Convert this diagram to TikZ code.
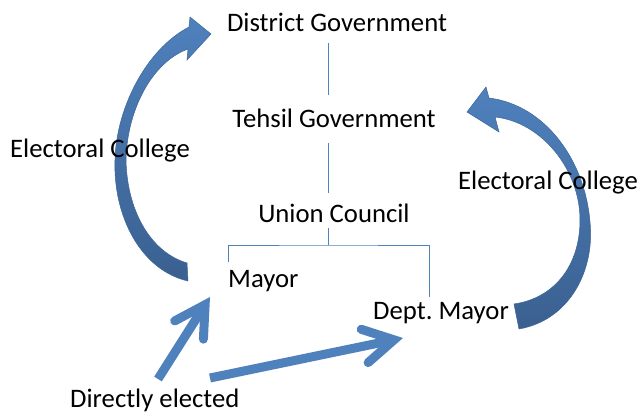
\documentclass[tikz,border=0pt]{standalone}
\usepackage{fontspec}
\setmainfont{Carlito}
\usetikzlibrary{arrows.meta}
\definecolor{pptblue}{RGB}{79,129,189}
\definecolor{pptdark}{RGB}{58,96,144}
\definecolor{pptedge}{RGB}{62,102,152}
\frenchspacing
\begin{document}
\begin{tikzpicture}[x=1pt,y=-1pt,
    lbl/.style={inner sep=0pt, text height=17pt, text depth=0pt, font=\fontsize{26.7}{30}\selectfont},
    tree/.style={draw=pptblue, line width=0.9pt},
    bendarrow/.style={draw=pptedge, line width=0.5pt, top color=pptblue, bottom color=pptdark},
    vote/.style={draw=pptblue, line width=9pt, line cap=butt,
        -{Straight Barb[length=30pt,width=34pt,line cap=round,line join=miter]}}]
    \useasboundingbox (0,0) rectangle (641,414);

    % curved arrows (electoral college), drawn under the labels
    \path[bendarrow] (187,263) -- (188,281)
        .. controls (140,270) and (113,215) .. (115,160)
        .. controls (116,110) and (145,50) .. (189,27)
        -- (190,17) -- (211,34) -- (187,60) -- (188,49)
        .. controls (152,62) and (127,110) .. (126,160)
        .. controls (127,210) and (150,252) .. (187,263) -- cycle;
    \path[bendarrow] (514,304) -- (519,329)
        .. controls (570,320) and (595,270) .. (590,222)
        .. controls (585,160) and (545,105) .. (489,98)
        -- (486,87) -- (467,112) -- (499,132) -- (495,117)
        .. controls (542,122) and (580,170) .. (580,220)
        .. controls (580,265) and (555,298) .. (514,304) -- cycle;

    \node[lbl, anchor=base] (dg) at (337,32) {District Government};
    \node[lbl, anchor=base] (tg) at (334,128) {Tehsil Government};
    \node[lbl, anchor=base] (uc) at (334,223) {Union Council};
    \node[lbl, anchor=base west] (my) at (228,288) {Mayor};
    \node[lbl, anchor=base west] (dm) at (373,320) {Dept. Mayor};
    \node[lbl, anchor=base west] (ecl) at (10,158) {Electoral College};
    \node[lbl, anchor=base west] (ecr) at (458,190) {Electoral College};
    \node[lbl, anchor=base west] (de) at (70,408) {Directly elected};

    % tree
    \coordinate (fork) at (328,245);
    \coordinate (lfoot) at (228,262);
    \coordinate (rfoot) at (429,297);
    \draw[tree] ([yshift=-11pt]dg.south -| fork) -- ([yshift=16pt]tg.north -| fork);
    \draw[tree] ([yshift=-15pt]tg.south -| fork) -- ([yshift=13pt]uc.north -| fork);
    \draw[tree] ([yshift=-5pt]uc.south -| fork) -- (fork);
    \draw[tree] (lfoot) |- (fork) -| (rfoot);

    % direct election
    \coordinate (mtail) at (158,379);
    \coordinate (dtail) at (210,378);
    \coordinate (mtip) at (210,297);
    \coordinate (dtip) at (403,338);
    \draw[vote] (mtail) -- (mtip);
    \draw[vote] (dtail) -- (dtip);
\end{tikzpicture}
\end{document}
